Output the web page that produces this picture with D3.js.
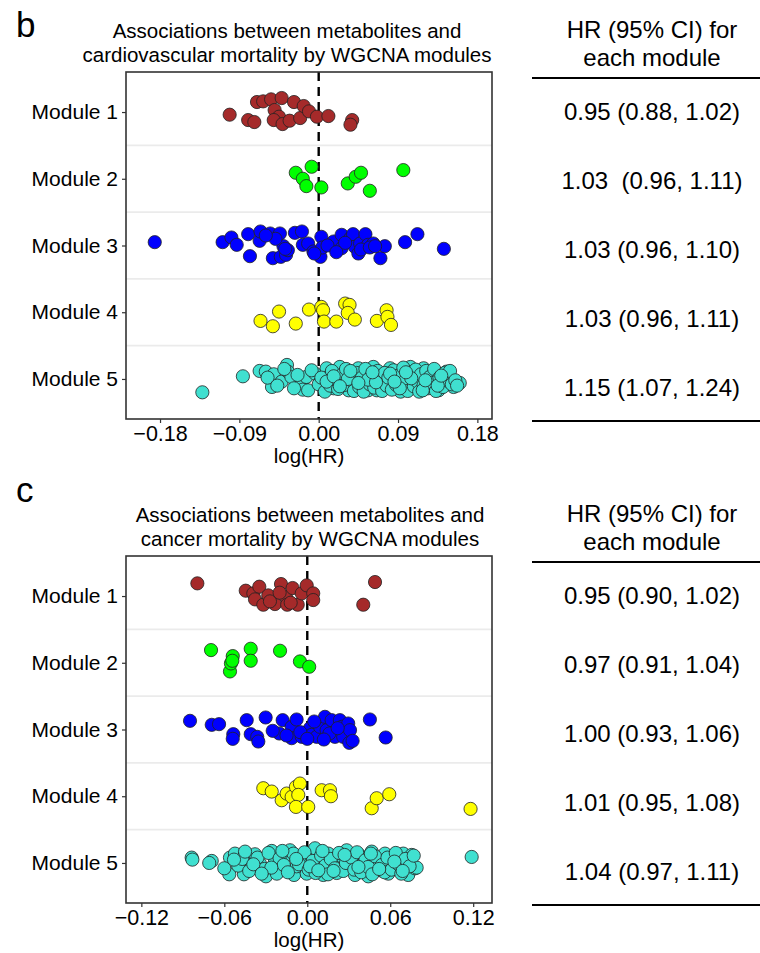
<!DOCTYPE html>
<html>
<head>
<meta charset="utf-8">
<script src="https://cdn.jsdelivr.net/npm/d3@7"></script>
<style>
  body { margin: 0; background: #fff; }
  text { font-family: "Liberation Sans", Arial, sans-serif; fill: #000; }
</style>
</head>
<body>
<div id="container"></div>
<script>
var modules = ["Module 1", "Module 2", "Module 3", "Module 4", "Module 5"];
var moduleColors = ["#A52A2A", "#00FF00", "#0000FF", "#FFFF00", "#40E0D0"];

// each point: [log(HR), vertical jitter in category units]
var cvdModule1 = [[-0.101,0.04],[-0.080,0.12],[-0.073,0.15],[-0.070,-0.15],[-0.063,-0.16],[-0.054,-0.19],[-0.042,-0.21],[-0.050,-0.03],[-0.045,0.07],[-0.051,0.12],[-0.041,0.18],[-0.033,0.13],[-0.028,-0.15],[-0.021,0.09],[-0.017,-0.09],[-0.011,-0.01],[-0.002,0.07],[0.011,0.06],[0.038,0.12],[0.036,0.19]];
var cvdModule2 = [[-0.026,-0.09],[-0.018,0.00],[-0.014,0.11],[-0.008,-0.18],[0.003,0.13],[0.033,0.07],[0.042,-0.03],[0.048,-0.09],[0.058,0.18],[0.096,-0.13]];
var cvdModule3 = [[-0.186,-0.05],[-0.109,-0.05],[-0.099,-0.12],[-0.093,-0.01],[-0.080,-0.17],[-0.078,0.16],[-0.067,-0.07],[-0.066,-0.21],[-0.055,-0.18],[-0.044,-0.18],[-0.052,0.19],[-0.043,0.17],[-0.037,0.14],[-0.040,0.01],[-0.035,0.07],[-0.027,-0.19],[-0.019,-0.21],[-0.018,-0.01],[-0.012,-0.03],[-0.006,0.09],[0.002,0.17],[0.003,-0.13],[0.004,0.03],[0.017,-0.06],[0.026,-0.16],[0.026,0.04],[0.036,-0.11],[0.039,-0.17],[0.041,0.02],[0.045,0.12],[0.047,-0.03],[0.053,-0.17],[0.056,-0.01],[0.062,-0.03],[0.070,0.19],[0.075,0.01],[0.098,-0.05],[0.112,-0.17],[0.142,0.05],[-0.049,-0.10],[-0.038,0.05],[0.010,0.00],[0.030,-0.04],[0.048,0.06],[0.058,0.03],[-0.005,0.12],[0.020,0.10],[-0.060,-0.15],[0.064,0.01]];
var cvdModule4 = [[-0.066,0.13],[-0.052,0.21],[-0.045,-0.01],[-0.026,0.17],[-0.011,-0.04],[0.003,-0.08],[0.005,-0.03],[0.006,0.14],[0.020,0.14],[0.030,-0.13],[0.035,-0.11],[0.033,0.01],[0.041,0.11],[0.066,0.13],[0.077,-0.03],[0.078,0.07],[0.082,0.19]];
var cvdModule5 = [[-0.132,0.20],[-0.086,-0.04],[-0.067,-0.12],[-0.060,-0.11],[-0.053,0.12],[-0.051,-0.07],[-0.042,0.04],[-0.036,-0.21],[-0.035,-0.11],[-0.031,-0.03],[-0.019,0.04],[-0.018,0.16],[-0.014,-0.03],[-0.004,-0.08],[0.002,0.04],[0.005,0.12],[0.009,-0.16],[0.011,-0.03],[0.017,0.14],[0.020,-0.08],[0.024,-0.18],[0.025,0.04],[0.034,0.17],[0.036,-0.11],[0.045,-0.16],[0.048,0.04],[0.054,-0.06],[0.056,0.17],[0.062,-0.18],[0.066,0.17],[0.070,-0.08],[0.073,0.07],[0.081,-0.16],[0.082,0.06],[0.087,-0.08],[0.092,0.04],[0.093,0.19],[0.100,-0.13],[0.104,-0.18],[0.106,0.07],[0.107,-0.06],[0.117,0.17],[0.119,-0.16],[0.121,-0.01],[0.130,-0.11],[0.136,-0.08],[0.136,0.17],[0.140,0.07],[0.145,-0.11],[0.153,0.12],[0.160,0.06],
  [-0.058,-0.02],[-0.047,0.10],[-0.039,-0.15],[-0.028,0.14],[-0.024,-0.06],[-0.012,0.17],[-0.008,-0.13],[0.000,0.08],[0.003,-0.02],[0.007,0.19],[0.013,0.10],[0.015,-0.12],[0.019,0.02],[0.022,0.15],[0.027,-0.07],[0.029,0.09],[0.031,-0.15],[0.038,0.03],[0.040,0.18],[0.043,-0.09],[0.046,0.12],[0.049,-0.02],[0.051,0.19],[0.053,-0.15],[0.058,0.08],[0.060,-0.05],[0.063,0.13],[0.067,-0.12],[0.070,0.02],[0.072,0.18],[0.075,-0.09],[0.077,0.10],[0.079,-0.02],[0.083,0.16],[0.085,-0.13],[0.088,0.09],[0.090,-0.05],[0.094,0.13],[0.096,-0.17],[0.098,0.03],[0.101,0.18],[0.103,-0.09],[0.108,0.11],[0.110,-0.14],[0.112,0.04],[0.114,0.19],[0.116,-0.07],[0.119,0.09],[0.122,-0.12],[0.124,0.14],[0.126,-0.03],[0.128,0.06],[0.131,-0.15],[0.133,0.18],[0.137,-0.02],[0.141,0.12],[0.143,-0.09],[0.147,0.03],[0.149,-0.12],[0.151,0.08],[0.155,0.02],[0.157,0.10],[0.033,0.00],[0.056,0.01],[0.065,0.05],[0.081,-0.08],[0.092,0.14],[0.105,-0.01],[0.118,0.17],[0.135,0.10],[0.139,-0.05],[0.009,0.04],[0.017,-0.04],[0.024,0.11],[0.036,-0.12],[0.045,0.06],[0.061,-0.10],[0.086,0.04],[0.099,-0.10],[0.121,0.02]];

var cancerModule1 = [[-0.0795,-0.19],[-0.0445,-0.08],[-0.039,-0.04],[-0.0347,-0.14],[-0.0378,0.05],[-0.0318,0.13],[-0.0282,-0.01],[-0.0234,0.12],[-0.019,-0.18],[-0.0154,0.01],[-0.0145,0.13],[-0.0106,-0.12],[-0.0069,0.13],[-0.004,-0.04],[-0.0004,-0.16],[0.0043,-0.04],[0.0043,0.06],[0.0405,0.13],[0.049,-0.21],[-0.027,0.08],[-0.012,0.10],[-0.020,-0.05]];
var cancerModule2 = [[-0.0696,-0.19],[-0.0559,0.13],[-0.0552,0.01],[-0.0539,-0.10],[-0.0542,-0.03],[-0.0409,-0.21],[-0.0409,-0.03],[-0.0197,-0.18],[-0.0053,-0.02],[0.0014,0.06]];
var cancerModule3 = [[-0.0848,-0.13],[-0.0691,-0.07],[-0.0638,-0.08],[-0.0535,0.07],[-0.0539,0.14],[-0.0438,-0.14],[-0.0409,0.07],[-0.0362,0.11],[-0.0354,0.18],[-0.0301,-0.18],[-0.0202,0.06],[-0.0178,-0.14],[-0.0113,-0.04],[-0.0113,0.13],[-0.0077,-0.15],[-0.004,0.11],[0.002,-0.02],[0.0032,0.08],[0.0068,0.11],[0.0092,-0.04],[0.0128,-0.19],[0.014,0.01],[0.0176,-0.14],[0.020,0.11],[0.0236,-0.14],[0.0249,-0.04],[0.026,0.11],[0.0296,-0.09],[0.0309,0.01],[0.0304,0.20],[0.0328,0.17],[0.0453,-0.15],[0.0567,0.12],[-0.025,0.02],[-0.005,0.04],[0.005,-0.12],[0.016,0.06],[0.022,-0.02],[0.000,0.14],[-0.015,0.09],[0.012,0.15]];
var cancerModule4 = [[-0.0318,-0.12],[-0.0257,-0.07],[-0.0185,0.06],[-0.0149,-0.04],[-0.0113,0.01],[-0.0082,-0.14],[-0.0053,-0.19],[-0.0065,-0.02],[-0.0082,0.16],[0.0007,0.16],[0.0104,-0.09],[0.0164,-0.09],[0.0171,0.00],[0.0466,0.18],[0.0502,0.03],[0.0593,-0.03],[0.1181,0.19]];
var cancerModule5 = [[-0.0836,-0.08],[-0.0831,-0.05],[-0.0691,-0.03],[-0.0709,0.00],[-0.0559,-0.08],[-0.0564,0.17],[-0.0523,-0.14],[-0.045,-0.13],[-0.0458,0.17],[-0.0402,0.05],[-0.0378,-0.13],[-0.0342,0.01],[-0.0299,0.20],[-0.0257,-0.18],[-0.0234,-0.02],[-0.0185,0.11],[-0.0161,-0.10],[-0.0125,-0.19],[-0.0096,0.18],[-0.0077,0.05],[-0.0029,-0.09],[-0.0004,0.16],[0.0032,-0.09],[0.0056,-0.22],[0.008,0.06],[0.0116,0.18],[0.0152,-0.14],[0.0184,-0.02],[0.0213,0.15],[0.0249,-0.10],[0.0285,-0.19],[0.0309,0.06],[0.0345,0.18],[0.0376,-0.12],[0.0405,0.01],[0.0441,0.20],[0.0466,-0.17],[0.0513,-0.04],[0.0526,0.11],[0.0562,-0.14],[0.0586,0.16],[0.0622,-0.04],[0.0634,0.08],[0.0694,-0.14],[0.073,0.18],[0.0755,-0.12],[0.0779,0.08],[0.0791,0.07],[0.1189,-0.09],
  [-0.050,0.04],[-0.047,-0.06],[-0.042,0.12],[-0.036,-0.08],[-0.031,0.09],[-0.028,-0.15],[-0.022,0.16],[-0.020,-0.07],[-0.017,0.03],[-0.014,0.14],[-0.010,-0.14],[-0.006,0.02],[-0.002,-0.16],[0.001,0.10],[0.004,-0.03],[0.006,0.15],[0.010,-0.11],[0.013,0.04],[0.015,0.17],[0.017,-0.06],[0.020,0.08],[0.023,-0.15],[0.026,0.12],[0.028,0.00],[0.032,-0.08],[0.034,0.10],[0.036,-0.16],[0.039,0.14],[0.042,-0.04],[0.044,0.06],[0.047,0.17],[0.049,-0.10],[0.054,0.03],[0.056,0.14],[0.058,-0.08],[0.061,0.10],[0.064,-0.15],[0.066,0.02],[0.068,0.16],[0.071,-0.06],[0.074,0.05],[0.077,-0.11],[-0.060,0.08],[-0.053,-0.05],[-0.039,0.02],[-0.026,0.07],[-0.008,-0.06],[0.002,0.05],[0.011,-0.18],[0.019,0.12],[0.027,-0.12],[0.037,0.06],[0.046,-0.14],[0.052,0.09],[0.063,-0.02],[0.069,0.12],[-0.045,-0.17],[-0.033,0.16],[-0.018,-0.18],[0.008,0.11]];

var cvdTicks = [-0.18, -0.09, 0, 0.09, 0.18];
var cancerTicks = [-0.12, -0.06, 0, 0.06, 0.12];
var cvdHR = ["0.95 (0.88, 1.02)", "1.03  (0.96, 1.11)", "1.03 (0.96, 1.10)", "1.03 (0.96, 1.11)", "1.15 (1.07, 1.24)"];
var cancerHR = ["0.95 (0.90, 1.02)", "0.97 (0.91, 1.04)", "1.00 (0.93, 1.06)", "1.01 (0.95, 1.08)", "1.04 (0.97, 1.11)"];

var svg = d3.select('#container').append('svg')
  .attr('width', 760).attr('height', 953);

function drawPanel(p) {
  var g = svg.append('g').attr('transform', 'translate(0,' + p.offset + ')');
  var left = 126, right = 492, top = 72, bottom = 419;

  var x = d3.scaleLinear().domain(p.domain).range([left, right]);
  var y = d3.scalePoint().domain(modules).range([top, bottom]).padding(0.6);
  var step = y.step();

  g.append('text').attr('x', 16).attr('y', p.letterY)
    .style('font-size', '35px').text(p.letter);

  p.title.forEach(function(t, i) {
    g.append('text').attr('x', p.titleX).attr('y', 38 + i * 24)
      .attr('text-anchor', 'middle').style('font-size', '20.5px').text(t);
  });

  // separators between modules
  g.selectAll('line.sep').data(modules.slice(0, -1)).enter().append('line')
    .attr('x1', left).attr('x2', right)
    .attr('y1', function(d) { return y(d) + step / 2; })
    .attr('y2', function(d) { return y(d) + step / 2; })
    .attr('stroke', '#ebebeb').attr('stroke-width', 1.6);

  // dashed zero line
  g.append('line').attr('x1', x(0)).attr('x2', x(0))
    .attr('y1', top).attr('y2', bottom)
    .attr('stroke', '#000').attr('stroke-width', 2.4)
    .attr('stroke-dasharray', '9,6');

  p.series.forEach(function(pts, k) {
    g.append('g').selectAll('circle').data(pts).enter().append('circle')
      .attr('cx', function(d) { return x(d[0]); })
      .attr('cy', function(d) { return y(modules[k]) + d[1] * step; })
      .attr('r', 6.6)
      .attr('fill', moduleColors[k])
      .attr('stroke', '#222').attr('stroke-width', 0.8);
  });

  g.append('rect').attr('x', left).attr('y', top)
    .attr('width', right - left).attr('height', bottom - top)
    .attr('fill', 'none').attr('stroke', '#333').attr('stroke-width', 1.6);

  var xAxis = g.append('g').attr('transform', 'translate(0,' + bottom + ')')
    .call(d3.axisBottom(x).tickValues(p.ticks).tickSize(4).tickPadding(3)
      .tickFormat(function(d) { return d3.format('.2f')(d).replace('-', '\u2212'); }));
  xAxis.select('.domain').remove();
  xAxis.selectAll('line').attr('stroke', '#333').attr('stroke-width', 1.2);
  xAxis.selectAll('text').style('font-size', '21.5px').attr('fill', '#000')
    .style('font-family', '"Liberation Sans", Arial, sans-serif');

  var yAxis = g.append('g').attr('transform', 'translate(' + left + ',0)')
    .call(d3.axisLeft(y).tickSize(4).tickPadding(4));
  yAxis.select('.domain').remove();
  yAxis.selectAll('line').attr('stroke', '#333').attr('stroke-width', 1.2);
  yAxis.selectAll('text').style('font-size', '21px').attr('fill', '#000')
    .style('font-family', '"Liberation Sans", Arial, sans-serif');

  g.append('text').attr('x', (left + right) / 2).attr('y', 463)
    .attr('text-anchor', 'middle').style('font-size', '20.5px').text('log(HR)');

  // HR table
  var cx = 652;
  ['HR (95% CI) for', 'each module'].forEach(function(t, i) {
    g.append('text').attr('x', cx).attr('y', 38 + i * 28)
      .attr('text-anchor', 'middle').style('font-size', '24px').text(t);
  });
  g.append('line').attr('x1', 532).attr('x2', 760).attr('y1', 78).attr('y2', 78)
    .attr('stroke', '#000').attr('stroke-width', 2.2);
  g.selectAll('text.hr').data(p.hr).enter().append('text')
    .attr('x', cx)
    .attr('y', function(d, i) { return 112 + i * 69; })
    .attr('dy', '0.35em')
    .attr('text-anchor', 'middle')
    .attr('xml:space', 'preserve')
    .style('white-space', 'pre')
    .style('font-size', '24px')
    .text(function(d) { return d; });
  g.append('line').attr('x1', 532).attr('x2', 760).attr('y1', 421).attr('y2', 421)
    .attr('stroke', '#000').attr('stroke-width', 2.2);
}

drawPanel({
  offset: 0, letter: 'b', letterY: 37, titleX: 287,
  title: ['Associations between metabolites and', 'cardiovascular mortality by WGCNA modules'],
  domain: [-0.2186, 0.1966], ticks: cvdTicks, hr: cvdHR,
  series: [cvdModule1, cvdModule2, cvdModule3, cvdModule4, cvdModule5]
});
drawPanel({
  offset: 484, letter: 'c', letterY: 18, titleX: 310,
  title: ['Associations between metabolites and', 'cancer mortality by WGCNA modules'],
  domain: [-0.1311, 0.1336], ticks: cancerTicks, hr: cancerHR,
  series: [cancerModule1, cancerModule2, cancerModule3, cancerModule4, cancerModule5]
});
</script>
</body>
</html>
